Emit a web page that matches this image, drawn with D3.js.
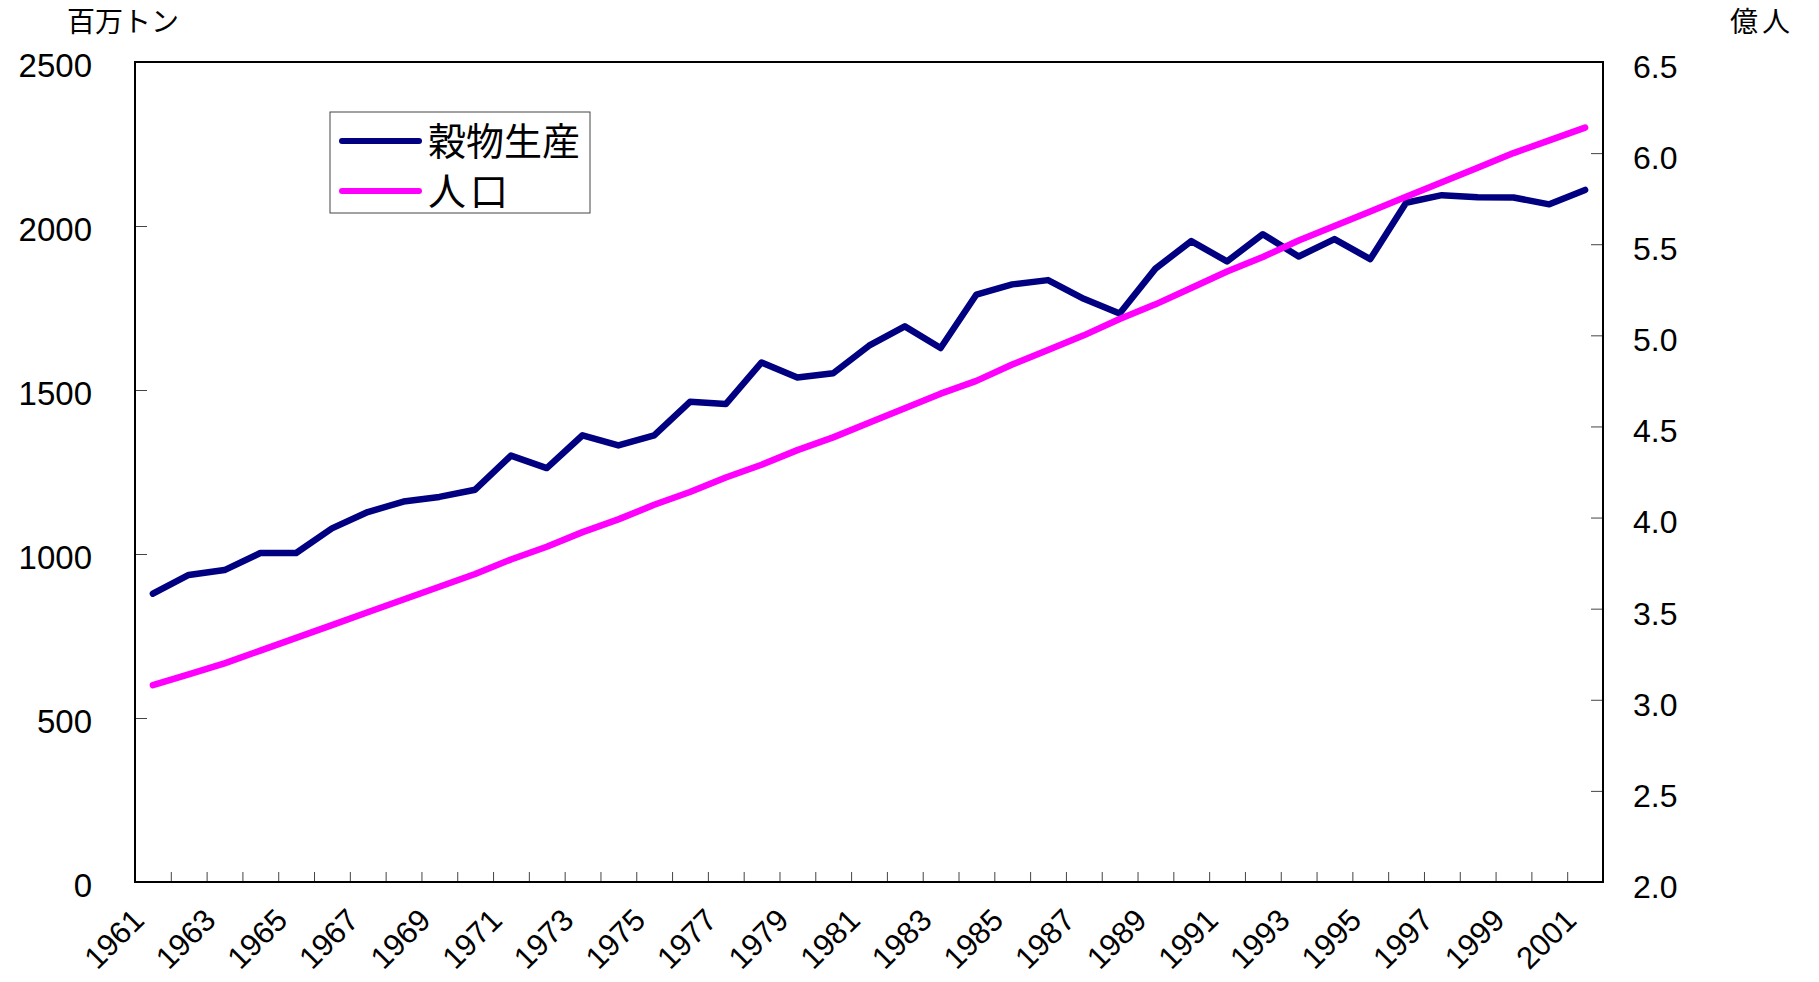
<!DOCTYPE html>
<html lang="ja">
<head>
<meta charset="utf-8">
<title>穀物生産と人口</title>
<script src="https://d3js.org/d3.v7.min.js"></script>
<style>
  body { margin: 0; background: #fff; }
  text { fill: #000; }
</style>
</head>
<body>
<div id="chart"></div>
<script>
// data
var years = d3.range(1961, 2002);
var grain = [879, 936, 951, 1003, 1003, 1078, 1128, 1160, 1174, 1196,
             1300, 1262, 1362, 1331, 1362, 1464, 1457, 1584, 1538, 1551,
             1635, 1694, 1628, 1791, 1822, 1835, 1778, 1733, 1870, 1954,
             1892, 1975, 1907, 1960, 1899, 2071, 2094, 2088, 2087, 2066, 2110];
var population = [3.08, 3.14, 3.20, 3.27, 3.34, 3.41, 3.48, 3.55, 3.62, 3.69,
                  3.77, 3.84, 3.92, 3.99, 4.07, 4.14, 4.22, 4.29, 4.37, 4.44,
                  4.52, 4.60, 4.68, 4.75, 4.84, 4.92, 5.00, 5.09, 5.17, 5.26,
                  5.35, 5.43, 5.52, 5.60, 5.68, 5.76, 5.84, 5.92, 6.00, 6.07, 6.14];
var leftTicks = [0, 500, 1000, 1500, 2000, 2500];
var rightTicks = [2.0, 2.5, 3.0, 3.5, 4.0, 4.5, 5.0, 5.5, 6.0, 6.5];
var seriesNames = ["穀物生産", "人口"];
var seriesColors = ["#000080", "#ff00ff"];

var W = 1819, H = 982;
var L = 135, R = 1603, T = 62, B = 882;
var numFont = "'Liberation Sans', Arial, sans-serif";
var jpFont = "'Noto Sans CJK JP', sans-serif";

var svg = d3.select("#chart").append("svg")
  .attr("width", W).attr("height", H);

var x = d3.scaleBand().domain(years).range([L, R]).padding(0);
var xEdge = d3.scaleLinear().domain([0, years.length]).range([L, R]);
var yL = d3.scaleLinear().domain([0, 2500]).range([B, T]);
var yR = d3.scaleLinear().domain([2.0, 6.5]).range([B, T]);

// x ticks at category boundaries
var gx = svg.append("g")
  .attr("transform", "translate(0," + B + ")")
  .call(d3.axisBottom(xEdge).tickValues(d3.range(1, years.length)).tickSize(-10).tickFormat(""));
gx.select(".domain").remove();
gx.selectAll("line").attr("stroke", "#444").attr("stroke-width", 1);

// x labels, every other year
svg.append("g").selectAll("text")
  .data(years.filter(function(d, i) { return i % 2 == 0; }))
  .enter().append("text")
    .attr("transform", function(d) {
      return "translate(" + (x(d) + x.bandwidth() / 2 - 7) + "," + (B + 40) + ") rotate(-45)";
    })
    .attr("text-anchor", "end")
    .attr("font-family", numFont)
    .attr("font-size", 31)
    .text(function(d) { return d; });

// left axis
var gl = svg.append("g")
  .attr("transform", "translate(" + L + ",0)")
  .call(d3.axisLeft(yL).tickValues(leftTicks).tickSize(-12).tickPadding(43).tickFormat(d3.format("d")));
gl.select(".domain").remove();
gl.selectAll("line").attr("stroke", "#444").attr("stroke-width", 1);
gl.selectAll("text").attr("font-family", numFont).attr("font-size", 33).attr("dy", "0.45em");

// right axis
var gr = svg.append("g")
  .attr("transform", "translate(" + R + ",0)")
  .call(d3.axisRight(yR).tickValues(rightTicks).tickSize(-12).tickPadding(30).tickFormat(d3.format(".1f")));
gr.select(".domain").remove();
gr.selectAll("line").attr("stroke", "#444").attr("stroke-width", 1);
gr.selectAll("text").attr("font-family", numFont).attr("font-size", 32).attr("dy", "0.48em");

// plot frame
svg.append("rect")
  .attr("x", L).attr("y", T).attr("width", R - L).attr("height", B - T)
  .attr("fill", "none").attr("stroke", "#000").attr("stroke-width", 2);

// axis titles
svg.append("text").attr("x", 123).attr("y", 32).attr("text-anchor", "middle")
  .attr("font-family", jpFont).attr("font-size", 28).text("百万トン");
svg.append("text").attr("x", 1762).attr("y", 32).attr("text-anchor", "middle")
  .attr("font-family", jpFont).attr("font-size", 28).attr("letter-spacing", 4).text("億人");

// lines
var cx = function(d, i) { return x(years[i]) + x.bandwidth() / 2; };
var grainLine = d3.line().x(cx).y(function(d) { return yL(d); });
var popLine = d3.line().x(cx).y(function(d) { return yR(d); });

svg.append("path").datum(grain)
  .attr("d", grainLine).attr("fill", "none")
  .attr("stroke", seriesColors[0]).attr("stroke-width", 6.5)
  .attr("stroke-linejoin", "round").attr("stroke-linecap", "round");
svg.append("path").datum(population)
  .attr("d", popLine).attr("fill", "none")
  .attr("stroke", seriesColors[1]).attr("stroke-width", 6.5)
  .attr("stroke-linejoin", "round").attr("stroke-linecap", "round");

// legend
var lg = svg.append("g").attr("transform", "translate(330,112)");
lg.append("rect").attr("width", 260).attr("height", 101)
  .attr("fill", "#fff").attr("stroke", "#444").attr("stroke-width", 1);
var item = lg.selectAll(".item").data(seriesNames).enter().append("g")
  .attr("class", "item")
  .attr("transform", function(d, i) { return "translate(0," + (29 + i * 50) + ")"; });
item.append("line").attr("x1", 12).attr("x2", 89).attr("y1", 0).attr("y2", 0)
  .attr("stroke", function(d, i) { return seriesColors[i]; })
  .attr("stroke-width", 6).attr("stroke-linecap", "round");
item.append("text").attr("x", 98).attr("y", 14)
  .attr("font-family", jpFont).attr("font-size", 38)
  .attr("letter-spacing", function(d, i) { return i == 1 ? 4 : 0; })
  .text(function(d) { return d; });
</script>
</body>
</html>
